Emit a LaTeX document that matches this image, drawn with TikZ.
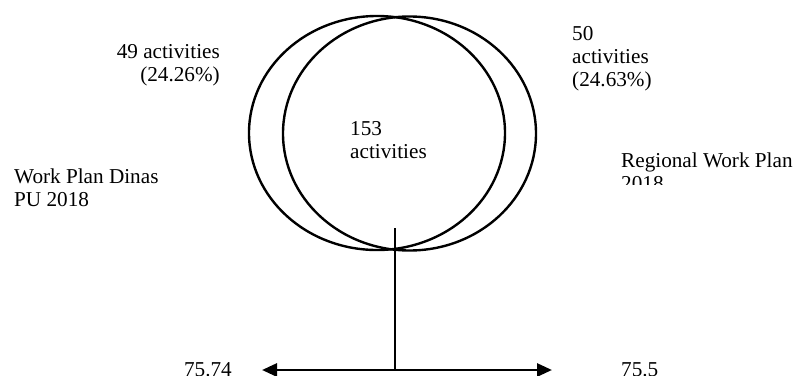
\documentclass[tikz,border=0pt]{standalone}
\usepackage{fontspec}
\setmainfont{Liberation Serif}
\usetikzlibrary{shapes.geometric,arrows.meta}
\tikzset{
  venn/.style={ellipse, draw, line width=2.4pt, minimum width=256pt, minimum height=234pt, inner sep=0pt},
  lbl/.style={inner sep=0pt, font=\fontsize{21.2}{23}\selectfont},
  dbl/.style={line width=2.8pt, {Triangle[length=15pt,width=13pt]}-{Triangle[length=15pt,width=13pt]}},
  stem/.style={line width=1.1pt}
}
\begin{document}
\begin{tikzpicture}[x=1pt,y=-1pt]
\useasboundingbox (0,0) rectangle (797,375);
\node[venn] (L) at (377,133) {};
\node[venn, minimum width=253pt] (R) at (409.5,133.5) {};
\node[lbl, anchor=base east, align=right] (a49) at (220,81) {49 activities\\(24.26\%)};
\node[lbl, anchor=base west, align=left] (a50) at (572,86) {50\\activities\\(24.63\%)};
\node[lbl, anchor=base west, align=left] (a153) at (350,158) {153\\activities};
\node[lbl, anchor=base west, align=left] (wp) at (14,206) {Work Plan Dinas\\PU 2018};
\begin{scope}
\clip (600,0) rectangle (797,184);
\node[lbl, anchor=base west, align=left] (rwp) at (621,190) {Regional Work Plan\\2018};
\end{scope}
\node[lbl, anchor=base east] (v1) at (232,376) {75.74};
\node[lbl, anchor=base west] (v2) at (621,376) {75.5};
\coordinate (top) at (395,228);
\coordinate (al) at (262,370);
\coordinate (ar) at (552,370);
\coordinate (mid) at (395,370);
\draw[dbl] (al) -- (ar);
\draw[stem] (top) -- (mid);
\end{tikzpicture}
\end{document}
